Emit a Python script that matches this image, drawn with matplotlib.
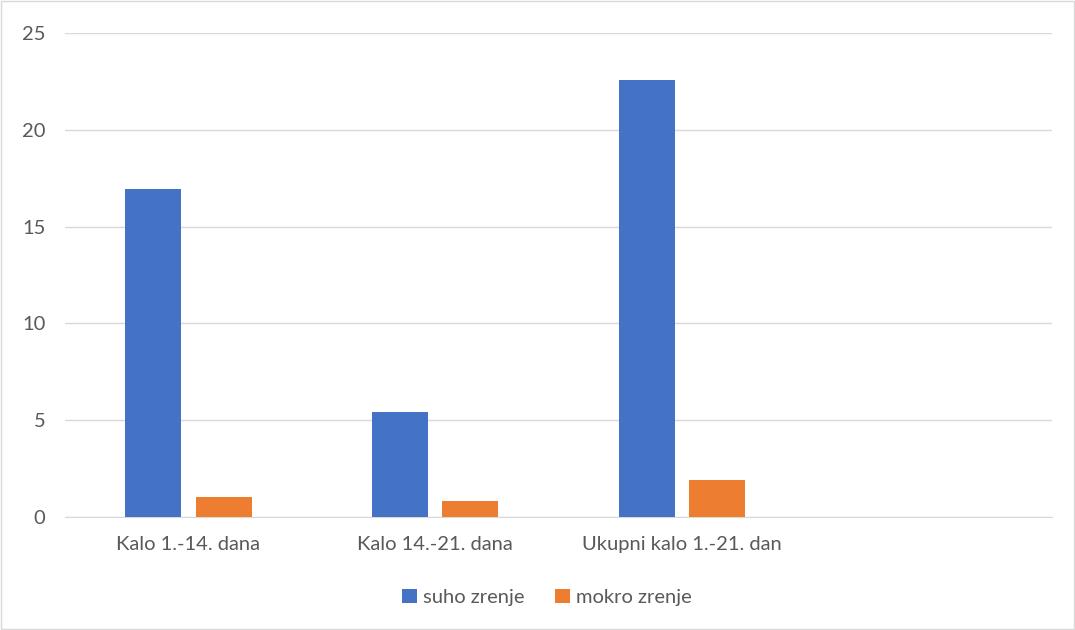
import matplotlib.pyplot as plt
import numpy as np

categories = ["Kalo 1.-14. dana", "Kalo 14.-21. dana", "Ukupni kalo 1.-21. dan", ""]
suho = [16.95, 5.44, 22.57, np.nan]
mokro = [1.03, 0.85, 1.9, np.nan]
yticks = [0, 5, 10, 15, 20, 25]

plt.rcParams['font.family'] = ['Lato', 'DejaVu Sans']
text_color = "#595959"

fig = plt.figure(figsize=(10.75, 6.3), dpi=100)
ax = fig.add_axes([0.0605, 0.1794, 0.918, 0.7682])

x = np.arange(len(categories))
w = 0.227
ax.bar(x - 0.143, suho, width=w, color="#4472C4", label="suho zrenje", zorder=3)
ax.bar(x + 0.143, mokro, width=w, color="#ED7D31", label="mokro zrenje", zorder=3)

ax.set_xlim(-0.5, len(categories) - 0.5)
ax.set_ylim(0, 25)
ax.set_yticks(yticks)
ax.set_xticks(x)
ax.set_xticklabels(categories)
ax.tick_params(axis='both', length=0, labelsize=14.5, colors=text_color)
ax.tick_params(axis='x', pad=14)
ax.tick_params(axis='y', pad=14)
ax.grid(axis='y', color="#D9D9D9", linewidth=1, zorder=0)
for s in ["top", "right", "left"]:
    ax.spines[s].set_visible(False)
ax.spines["bottom"].set_color("#D9D9D9")

fig.legend(loc="center", bbox_to_anchor=(0.509, 0.052), ncol=2, frameon=False,
           fontsize=14.5, labelcolor=text_color, handlelength=0.75, handleheight=0.75,
           handletextpad=0.3, columnspacing=1.5)

# light border round the chart area
fig.patches.append(plt.Rectangle((0.001, 0.002), 0.998, 0.996, transform=fig.transFigure,
                                 fill=False, edgecolor="#D9D9D9", linewidth=1))

fig.savefig("out.png", dpi=100)
